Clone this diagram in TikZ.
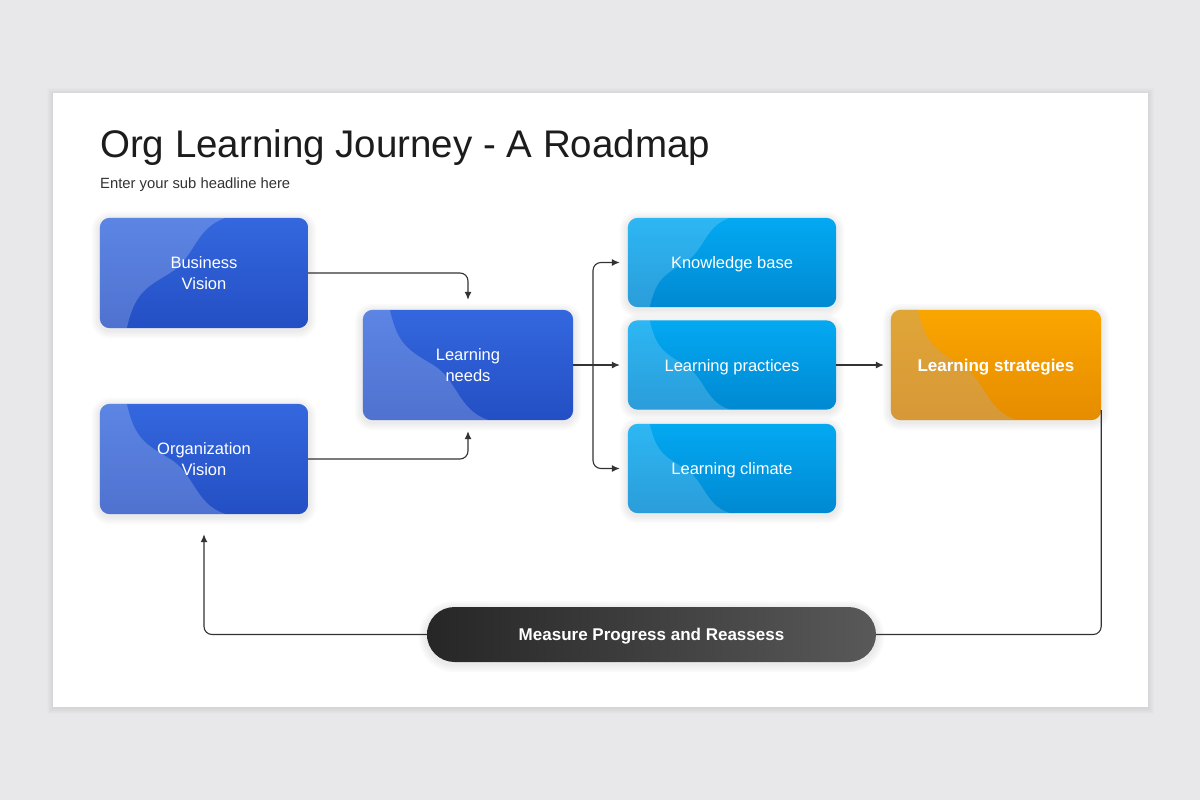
\documentclass[tikz,border=0pt]{standalone}
\usepackage{fontspec}
\setmainfont{Liberation Sans}
\usetikzlibrary{arrows.meta,calc}
\definecolor{bg}{HTML}{E8E7E9}
\definecolor{titlec}{HTML}{1C1C1C}
\definecolor{subc}{HTML}{333333}
\definecolor{blueT}{HTML}{3467DE}
\definecolor{blueB}{HTML}{244FC4}
\definecolor{cyanT}{HTML}{03A9F2}
\definecolor{cyanB}{HTML}{0089D2}
\definecolor{orT}{HTML}{FAA600}
\definecolor{orB}{HTML}{E68C00}
\definecolor{pillL}{HTML}{262626}
\definecolor{pillR}{HTML}{595959}
\definecolor{linec}{HTML}{333333}
\definecolor{orlight}{RGB}{200,165,110}
\pgfdeclarelayer{back}
\pgfdeclarelayer{glowlayer}
\pgfdeclarelayer{fills}
\pgfsetlayers{back,glowlayer,fills,main}
% box fill with light wave region: #1 node, #2 shading options, #3 anchor, #4 yscale sign, #5 scale, #6 wave fill options
\newcommand\boxfill[6]{%
  \begin{pgfonlayer}{fills}
    \path[#2, rounded corners=10pt] (#1.south west) rectangle (#1.north east);
    \begin{scope}
      \clip[rounded corners=10pt] (#1.south west) rectangle (#1.north east);
      \begin{scope}[shift={(#1.#3)}, xscale=#5, yscale=#4*#5]
        \fill[#6, sharp corners] (-5,-5) -- (27,-5) -- (27,0) .. controls (35,35) and (45,40) .. (70,55)
          .. controls (95,70) and (95,100) .. (125,110) -- (125,140) -- (-5,140) -- cycle;
      \end{scope}
    \end{scope}
  \end{pgfonlayer}}
% soft glow behind a node: #1 node, #2 corner radius
\newcommand\glow[2]{%
  \begin{pgfonlayer}{glowlayer}
    \foreach \s in {2,4,6,8}{
      \fill[black, opacity=0.018, rounded corners=#2+\s pt]
        ([xshift=-\s pt, yshift=\s pt-2pt]#1.north west) rectangle
        ([xshift=\s pt, yshift=-\s pt-2pt]#1.south east);
    }
  \end{pgfonlayer}}
\tikzset{
  box/.style={rounded corners=10pt, minimum width=208pt, minimum height=110pt,
    inner sep=0pt, text=white, align=center,
    font=\fontsize{16.5}{20.5}\selectfont},
  oneline/.style={text height=15.5pt, text depth=3pt},
  bluebox/.style={box},
  cyanbox/.style={box, oneline, minimum height=89pt},
  orbox/.style={box, oneline, font=\bfseries\fontsize{17}{20.5}\selectfont},
  bluefill/.style={top color=blueT, bottom color=blueB},
  cyanfill/.style={top color=cyanT, bottom color=cyanB},
  orfill/.style={top color=orT, bottom color=orB},
  pill/.style={rounded corners=27.5pt, minimum width=449pt, minimum height=55pt,
    inner sep=0pt, oneline, text=white, left color=pillL, right color=pillR,
    font=\bfseries\fontsize{17}{20}\selectfont},
  line/.style={draw=linec, line width=1.1pt, rounded corners=8pt},
  conn/.style={line, -{Latex[length=8pt,width=7pt]}},
}
\begin{document}
\begin{tikzpicture}[x=1pt,y=-1pt]
\useasboundingbox (0,0) rectangle (1200,800);
\begin{pgfonlayer}{back}
\fill[bg] (0,0) rectangle (1200,800);
\foreach \s in {1,2,3,4,5,6}{
  \fill[black, opacity=0.011] (53-\s,93-\s+1) rectangle (1148+\s,707+\s+1);
}
\fill[white] (53,93) rectangle (1148,707);
\end{pgfonlayer}

\node[anchor=base west, inner sep=0pt, text=titlec, font=\fontsize{38.5}{46}\selectfont]
  (title) at (100,157) {Org Learning Journey - A Roadmap};
\node[anchor=base west, inner sep=0pt, text=subc, font=\fontsize{14.8}{18}\selectfont]
  (sub) at (100,188) {Enter your sub headline here};

\node[bluebox] (bv) at (204,273) {Business\\Vision};
\node[bluebox] (ov) at (204,459) {Organization\\Vision};
\node[bluebox, minimum width=210pt] (ln) at (468,365) {Learning\\needs};
\node[cyanbox] (kb) at (732,262.5) {Knowledge base};
\node[cyanbox] (lp) at (732,365) {Learning practices};
\node[cyanbox] (lc) at (732,468.5) {Learning climate};
\node[orbox, minimum width=210pt] (ls) at (996,365) {Learning strategies};
\node[pill] (mp) at (651.5,634.5) {Measure Progress and Reassess};

\boxfill{bv}{bluefill}{south west}{-1}{1}{white,opacity=0.2}
\boxfill{ov}{bluefill}{north west}{1}{1}{white,opacity=0.2}
\boxfill{ln}{bluefill}{north west}{1}{1}{white,opacity=0.2}
\boxfill{kb}{cyanfill}{south west}{-1}{0.81}{white,opacity=0.17}
\boxfill{lp}{cyanfill}{north west}{1}{0.81}{white,opacity=0.17}
\boxfill{lc}{cyanfill}{north west}{1}{0.81}{white,opacity=0.17}
\boxfill{ls}{orfill}{north west}{1}{1}{orlight,opacity=0.5}

\glow{bv}{10pt}\glow{ov}{10pt}\glow{ln}{10pt}
\glow{kb}{10pt}\glow{lp}{10pt}\glow{lc}{10pt}
\glow{ls}{10pt}\glow{mp}{27.5pt}

\coordinate (br) at (593,365);
\draw[conn] (bv.east) -| ([yshift=10pt]ln.north);
\draw[conn] (ov.east) -| ([yshift=-11pt]ln.south);
\draw[line] (ln.east) -- (br);
\draw[conn] (br) |- ([xshift=-8pt]kb.west);
\draw[conn] (br) |- ([xshift=-8pt]lc.west);
\draw[conn] (br) -- ([xshift=-8pt]lp.west);
\draw[conn] (lp.east) -- ([xshift=-7pt]ls.west);
\draw[line] ([yshift=10pt]ls.south east) |- (mp.east);
\draw[conn] (mp.west) -| ([yshift=-20pt]ov.south);
\end{tikzpicture}
\end{document}
